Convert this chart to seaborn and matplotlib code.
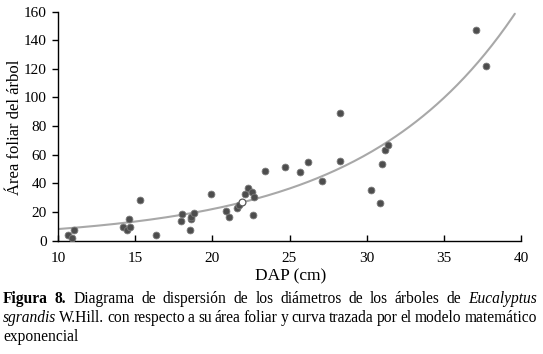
import numpy as np
import pandas as pd
import matplotlib
matplotlib.use("Agg")
import matplotlib.pyplot as plt
import seaborn as sns

# ---- data ----
dap = [10.67, 10.93, 11.06, 14.23, 14.45, 14.67, 14.62, 15.31, 16.35, 17.95,
       18.01, 18.55, 18.62, 18.62, 18.81, 19.93, 20.90, 21.10, 21.60, 21.75,
       22.12, 22.31, 22.60, 22.68, 22.66, 23.43, 24.69, 25.70, 26.20, 27.10,
       28.30, 28.30, 30.30, 30.87, 30.98, 31.20, 31.40, 37.09, 37.74]
area = [3.6, 1.7, 7.3, 9.7, 7.6, 9.7, 15.0, 28.1, 4.1, 13.4,
        18.5, 7.3, 14.8, 16.6, 19.0, 32.7, 20.7, 16.2, 22.9, 24.8,
        32.7, 36.4, 34.1, 30.6, 17.8, 48.6, 51.6, 48.1, 54.7, 41.4,
        89.2, 55.4, 35.3, 26.0, 53.3, 63.1, 67.0, 147.0, 122.3]
hollow_dap = [21.92]
hollow_area = [26.7]

# exponential model y = a * exp(b * x), drawn over the DAP range
model_a = 2.917
model_b = 0.1009
model_range = (10.0, 39.6)

xticks = [10, 15, 20, 25, 30, 35, 40]
yticks = [0, 20, 40, 60, 80, 100, 120, 140, 160]

x_label = "DAP (cm)"
y_label = "Área foliar del árbol"
caption_lines = [
    [("Figura", "normal", "bold"), ("8.", "normal", "bold"), ("Diagrama", "normal", "normal"),
     ("de", "normal", "normal"), ("dispersión", "normal", "normal"), ("de", "normal", "normal"),
     ("los", "normal", "normal"), ("diámetros", "normal", "normal"), ("de", "normal", "normal"),
     ("los", "normal", "normal"), ("árboles", "normal", "normal"), ("de", "normal", "normal"),
     ("Eucalyptus", "italic", "normal")],
    [("sgrandis", "italic", "normal"), ("W.Hill.", "normal", "normal"), ("con", "normal", "normal"),
     ("respecto", "normal", "normal"), ("a", "normal", "normal"), ("su", "normal", "normal"),
     ("área", "normal", "normal"), ("foliar", "normal", "normal"), ("y", "normal", "normal"),
     ("curva", "normal", "normal"), ("trazada", "normal", "normal"), ("por", "normal", "normal"),
     ("el", "normal", "normal"), ("modelo", "normal", "normal"), ("matemático", "normal", "normal")],
    [("exponencial", "normal", "normal")],
]

# ---- figure ----
sns.set_theme(style="white")
plt.rcParams["font.family"] = ["Liberation Serif", "DejaVu Serif"]

W, H = 543, 354
DPI = 100
fig = plt.figure(figsize=(W / DPI, H / DPI), dpi=DPI)
fig.patch.set_facecolor("white")

ax_l, ax_r, ax_t, ax_b = 58, 521, 11.7, 240.5
ax = fig.add_axes([ax_l / W, 1 - ax_b / H, (ax_r - ax_l) / W, (ax_b - ax_t) / H])
ax.set_facecolor("white")

xs = np.linspace(model_range[0], model_range[1], 200)
curve = pd.DataFrame({"x": xs, "y": model_a * np.exp(model_b * xs)})
sns.lineplot(data=curve, x="x", y="y", ax=ax, color="#a8a8a8", linewidth=1.5, zorder=2)

pts = pd.DataFrame({"dap": dap, "area": area})
sns.scatterplot(data=pts, x="dap", y="area", ax=ax, s=24, color="#4d4d4d",
                edgecolor="#7a7a7a", linewidth=0.6, zorder=3)
hp = pd.DataFrame({"dap": hollow_dap, "area": hollow_area})
sns.scatterplot(data=hp, x="dap", y="area", ax=ax, s=24, color="white",
                edgecolor="#5a5a5a", linewidth=0.9, zorder=4)

ax.set_xlim(10, 40)
ax.set_ylim(0, 160)
ax.set_xticks(xticks)
ax.set_yticks(yticks)
ax.set_xticklabels([str(v) for v in xticks], fontsize=11)
ax.set_yticklabels([str(v) for v in yticks], fontsize=11)
ax.tick_params(axis="x", direction="in", length=4, width=1, pad=8, colors="black",
               bottom=True, labelcolor="black")
ax.tick_params(axis="y", direction="out", length=4, width=1, pad=4, colors="black",
               left=True, labelcolor="black")
for side in ["top", "right"]:
    ax.spines[side].set_visible(False)
for side in ["left", "bottom"]:
    ax.spines[side].set_color("black")
    ax.spines[side].set_linewidth(1)
ax.grid(False)

ax.set_xlabel("")
ax.set_ylabel("")
fig.text(291 / W, 1 - 280 / H, x_label, fontsize=12.5, ha="center", va="baseline", color="black")
fig.text(15 / W, 1 - 127 / H, y_label, fontsize=12, ha="center", va="center",
         rotation=90, color="black")

# ---- caption, justified ----
fig.canvas.draw()
renderer = fig.canvas.get_renderer()
baselines = [303, 322, 341]
x0, x1 = 3, 537
cap_size = 11.2
for words, yb in zip(caption_lines, baselines):
    objs, widths = [], []
    for w, st, wt in words:
        t = fig.text(0, 1 - yb / H, w, fontsize=cap_size, style=st, weight=wt,
                     ha="left", va="baseline", color="black")
        objs.append(t)
        widths.append(t.get_window_extent(renderer).width)
    if len(objs) > 1:
        gap = (x1 - x0 - sum(widths)) / (len(objs) - 1)
    else:
        gap = 0
    x = x0
    for t, w in zip(objs, widths):
        t.set_x(x / W)
        x += w + gap

fig.savefig("out.png", dpi=DPI, facecolor="white")
